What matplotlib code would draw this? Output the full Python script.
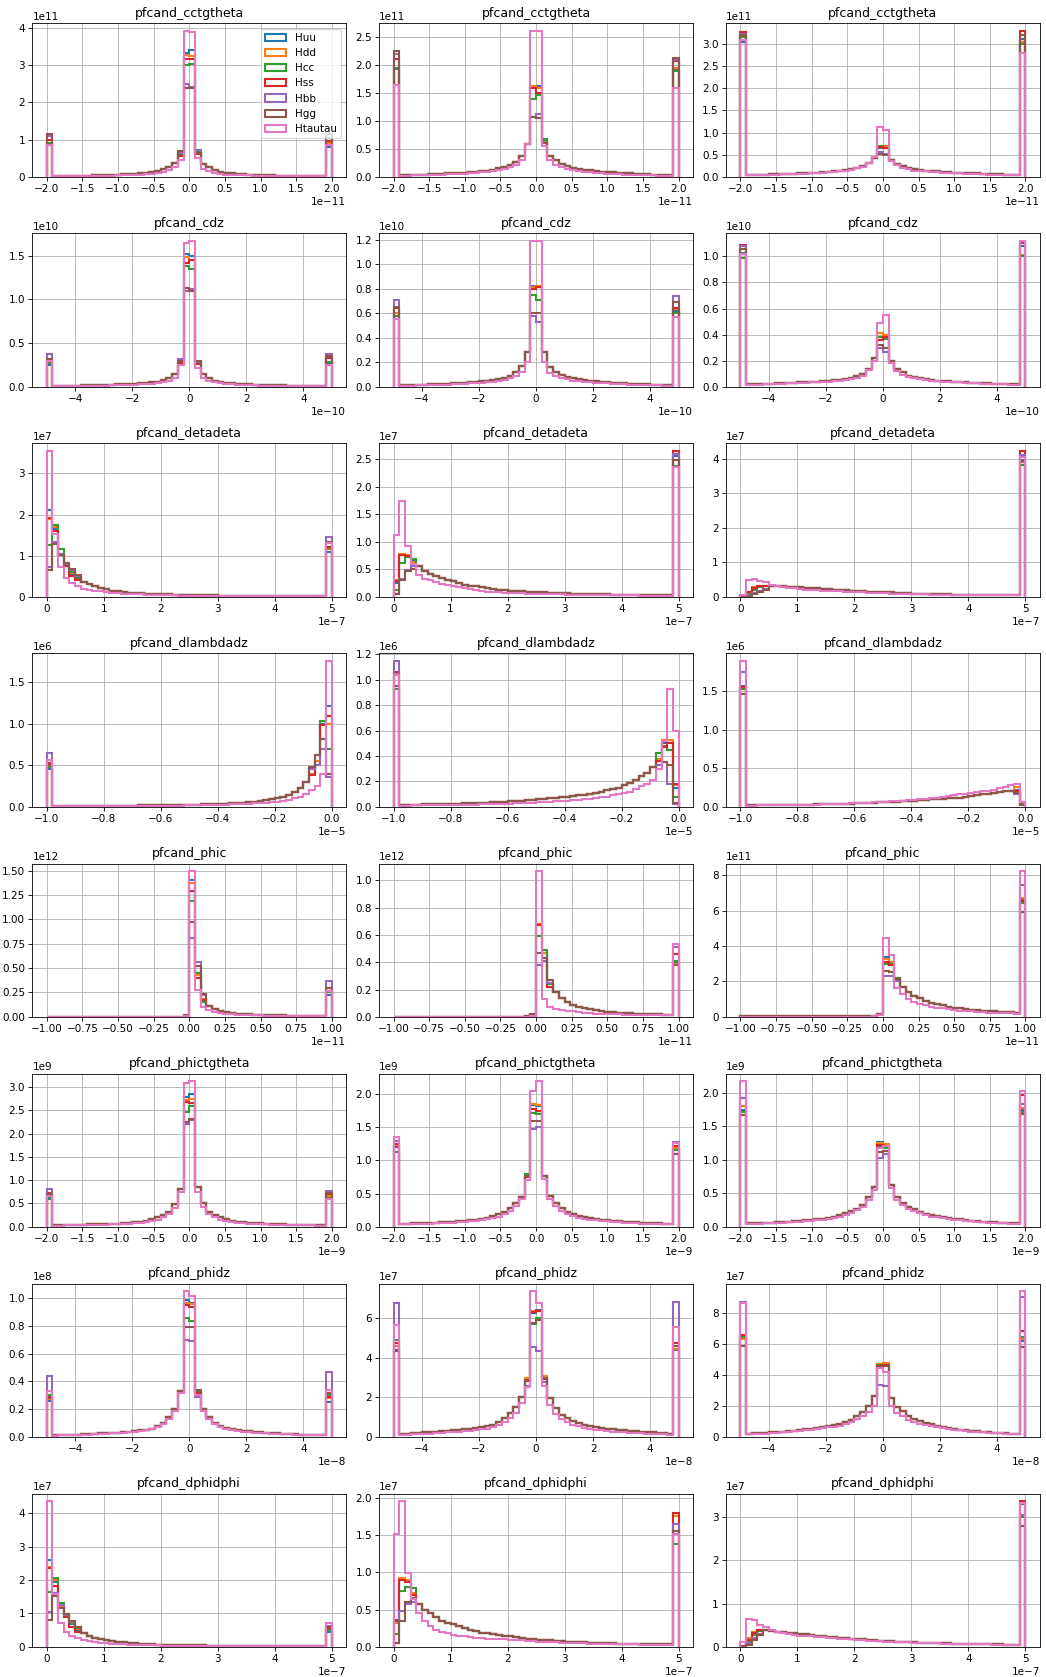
import numpy as np
import matplotlib
matplotlib.use("Agg")
import matplotlib.pyplot as plt

samples = ["Huu", "Hdd", "Hcc", "Hss", "Hbb", "Hgg", "Htautau"]
variables = ["pfcand_cctgtheta", "pfcand_cdz", "pfcand_detadeta", "pfcand_dlambdadz",
             "pfcand_phic", "pfcand_phictgtheta", "pfcand_phidz", "pfcand_dphidphi"]
x_ranges = [(-2e-11, 2e-11), (-5e-10, 5e-10), (0, 5e-7), (-1e-5, 0),
            (-1e-11, 1e-11), (-2e-9, 2e-9), (-5e-8, 5e-8), (0, 5e-7)]
# unit of the y axis for each panel (row, column)
y_units = [[1e11, 1e11, 1e11],
           [1e10, 1e10, 1e10],
           [1e7, 1e7, 1e7],
           [1e6, 1e6, 1e6],
           [1e12, 1e12, 1e11],
           [1e9, 1e9, 1e9],
           [1e8, 1e7, 1e7],
           [1e7, 1e7, 1e7]]

# 50 bins per panel: "qq" = typical quark/gluon sample, "tau" = Htautau,
# "peak" = per-sample values [Huu, Hdd, Hcc, Hss, Hbb, Hgg, Htautau] for bins that differ

# ---- pfcand_cctgtheta
cctgtheta_1_qq = [0.85, 0.02, 0.02, 0.02, 0.025, 0.025, 0.03, 0.03, 0.035, 0.04,
                  0.045, 0.05, 0.06, 0.065, 0.075, 0.085, 0.1, 0.11, 0.13, 0.15,
                  0.2, 0.27, 0.38, 0.62, 3.33, 3.4, 0.65, 0.35, 0.25, 0.18,
                  0.14, 0.11, 0.09, 0.08, 0.07, 0.06, 0.05, 0.045, 0.04, 0.035,
                  0.03, 0.03, 0.025, 0.025, 0.02, 0.02, 0.02, 0.02, 0.02, 0.8]
cctgtheta_1_tau = [0.85, 0.01, 0.01, 0.01, 0.015, 0.015, 0.02, 0.02, 0.02, 0.025,
                   0.03, 0.03, 0.035, 0.04, 0.045, 0.05, 0.06, 0.07, 0.08, 0.1,
                   0.13, 0.18, 0.26, 0.45, 3.92, 3.9, 0.5, 0.2, 0.15, 0.1,
                   0.08, 0.06, 0.05, 0.045, 0.04, 0.035, 0.03, 0.025, 0.02, 0.02,
                   0.02, 0.015, 0.015, 0.01, 0.01, 0.01, 0.01, 0.01, 0.01, 0.85]
cctgtheta_1_peak = {0: [0.85, 0.9, 0.92, 1.0, 1.1, 1.15, 0.85],
                    49: [0.8, 0.9, 0.95, 0.95, 1.05, 1.15, 0.85],
                    24: [3.33, 3.27, 3.0, 3.15, 2.5, 2.38, 3.92],
                    25: [3.4, 3.25, 3.02, 3.15, 2.4, 2.38, 3.9],
                    23: [0.62, 0.6, 0.6, 0.55, 0.65, 0.7, 0.45],
                    26: [0.65, 0.62, 0.7, 0.6, 0.72, 0.65, 0.5]}

cctgtheta_2_qq = [1.93, 0.03, 0.03, 0.035, 0.04, 0.04, 0.045, 0.05, 0.055, 0.06,
                  0.065, 0.07, 0.075, 0.08, 0.09, 0.1, 0.11, 0.12, 0.15, 0.18,
                  0.22, 0.27, 0.38, 0.58, 1.6, 1.63, 0.65, 0.38, 0.3, 0.23,
                  0.19, 0.16, 0.14, 0.13, 0.12, 0.1, 0.09, 0.085, 0.08, 0.07,
                  0.065, 0.06, 0.055, 0.05, 0.045, 0.04, 0.04, 0.035, 0.03, 1.93]
cctgtheta_2_tau = [1.65, 0.02, 0.02, 0.025, 0.03, 0.03, 0.035, 0.035, 0.04, 0.045,
                   0.05, 0.05, 0.055, 0.06, 0.07, 0.08, 0.09, 0.1, 0.12, 0.14,
                   0.17, 0.22, 0.3, 0.58, 2.62, 2.62, 0.55, 0.3, 0.22, 0.17,
                   0.14, 0.12, 0.1, 0.09, 0.08, 0.07, 0.06, 0.055, 0.05, 0.045,
                   0.04, 0.035, 0.03, 0.03, 0.025, 0.025, 0.02, 0.02, 0.02, 1.6]
cctgtheta_2_peak = {0: [1.93, 1.95, 1.95, 2.12, 2.2, 2.25, 1.65],
                    49: [1.93, 1.95, 1.9, 2.07, 2.1, 2.13, 1.6],
                    24: [1.6, 1.62, 1.4, 1.6, 1.08, 1.08, 2.62],
                    25: [1.63, 1.6, 1.47, 1.5, 1.13, 1.05, 2.62],
                    26: [0.65, 0.63, 0.68, 0.6, 0.6, 0.6, 0.55]}

cctgtheta_3_qq = [3.05, 0.05, 0.05, 0.05, 0.05, 0.055, 0.06, 0.06, 0.065, 0.07,
                  0.075, 0.08, 0.085, 0.09, 0.1, 0.11, 0.12, 0.13, 0.15, 0.17,
                  0.2, 0.24, 0.3, 0.42, 0.65, 0.68, 0.38, 0.29, 0.24, 0.2,
                  0.17, 0.15, 0.14, 0.13, 0.12, 0.11, 0.1, 0.095, 0.09, 0.085,
                  0.08, 0.075, 0.07, 0.065, 0.06, 0.055, 0.05, 0.05, 0.05, 3.12]
cctgtheta_3_tau = [3.1, 0.04, 0.04, 0.045, 0.045, 0.05, 0.05, 0.055, 0.06, 0.065,
                   0.07, 0.07, 0.075, 0.08, 0.09, 0.1, 0.11, 0.12, 0.14, 0.16,
                   0.19, 0.22, 0.3, 0.45, 1.13, 1.05, 0.35, 0.27, 0.2, 0.17,
                   0.14, 0.13, 0.12, 0.11, 0.1, 0.09, 0.085, 0.08, 0.075, 0.07,
                   0.065, 0.06, 0.055, 0.05, 0.05, 0.045, 0.045, 0.04, 0.04, 2.8]
cctgtheta_3_peak = {0: [3.05, 3.1, 3.15, 3.27, 3.22, 3.2, 3.1],
                    49: [3.12, 3.05, 3.0, 3.3, 3.2, 3.2, 2.8],
                    24: [0.65, 0.68, 0.7, 0.68, 0.55, 0.52, 1.13],
                    25: [0.68, 0.7, 0.66, 0.65, 0.52, 0.5, 1.05]}

# ---- pfcand_cdz
cdz_1_qq = [0.25, 0.01, 0.01, 0.01, 0.012, 0.013, 0.015, 0.016, 0.018, 0.02,
            0.022, 0.025, 0.028, 0.03, 0.033, 0.036, 0.04, 0.045, 0.05, 0.06,
            0.075, 0.1, 0.15, 0.28, 1.52, 1.5, 0.27, 0.15, 0.1, 0.07,
            0.055, 0.045, 0.04, 0.035, 0.03, 0.028, 0.025, 0.022, 0.02, 0.018,
            0.016, 0.015, 0.013, 0.012, 0.011, 0.01, 0.01, 0.01, 0.01, 0.27]
cdz_1_tau = [0.3, 0.005, 0.005, 0.006, 0.007, 0.008, 0.009, 0.01, 0.011, 0.012,
             0.014, 0.016, 0.018, 0.02, 0.022, 0.025, 0.028, 0.032, 0.036, 0.042,
             0.05, 0.07, 0.1, 0.25, 1.65, 1.67, 0.22, 0.1, 0.07, 0.05,
             0.04, 0.032, 0.028, 0.024, 0.02, 0.018, 0.016, 0.014, 0.012, 0.011,
             0.01, 0.009, 0.008, 0.007, 0.006, 0.006, 0.005, 0.005, 0.005, 0.25]
cdz_1_peak = {0: [0.25, 0.27, 0.27, 0.3, 0.38, 0.32, 0.3],
              49: [0.27, 0.28, 0.28, 0.33, 0.37, 0.35, 0.25],
              24: [1.52, 1.48, 1.38, 1.42, 1.1, 1.13, 1.65],
              25: [1.5, 1.45, 1.35, 1.45, 1.12, 1.1, 1.67],
              23: [0.28, 0.27, 0.27, 0.27, 0.32, 0.3, 0.25],
              26: [0.27, 0.26, 0.27, 0.26, 0.28, 0.3, 0.22]}

cdz_2_qq = [0.6, 0.012, 0.013, 0.014, 0.015, 0.017, 0.019, 0.021, 0.023, 0.025,
            0.028, 0.03, 0.033, 0.036, 0.04, 0.043, 0.048, 0.055, 0.062, 0.075,
            0.09, 0.12, 0.17, 0.28, 0.82, 0.82, 0.28, 0.16, 0.12, 0.1,
            0.08, 0.07, 0.062, 0.055, 0.048, 0.043, 0.04, 0.036, 0.033, 0.03,
            0.028, 0.025, 0.023, 0.021, 0.019, 0.017, 0.015, 0.014, 0.013, 0.62]
cdz_2_tau = [0.55, 0.008, 0.009, 0.01, 0.011, 0.012, 0.013, 0.014, 0.016, 0.018,
             0.02, 0.022, 0.024, 0.027, 0.03, 0.033, 0.036, 0.04, 0.046, 0.055,
             0.07, 0.09, 0.12, 0.2, 1.19, 1.19, 0.2, 0.11, 0.085, 0.07,
             0.06, 0.05, 0.045, 0.04, 0.035, 0.032, 0.03, 0.027, 0.024, 0.022,
             0.02, 0.018, 0.016, 0.014, 0.013, 0.012, 0.011, 0.01, 0.009, 0.57]
cdz_2_peak = {0: [0.6, 0.6, 0.58, 0.64, 0.71, 0.65, 0.55],
              49: [0.62, 0.63, 0.6, 0.64, 0.74, 0.69, 0.57],
              24: [0.82, 0.81, 0.75, 0.8, 0.58, 0.6, 1.19],
              25: [0.82, 0.82, 0.71, 0.81, 0.53, 0.6, 1.19]}

cdz_3_qq = [1.03, 0.018, 0.02, 0.02, 0.022, 0.024, 0.026, 0.028, 0.03, 0.032,
            0.034, 0.036, 0.038, 0.04, 0.043, 0.046, 0.05, 0.055, 0.06, 0.068,
            0.08, 0.1, 0.14, 0.22, 0.41, 0.4, 0.2, 0.14, 0.11, 0.085,
            0.072, 0.065, 0.058, 0.052, 0.048, 0.045, 0.042, 0.04, 0.037, 0.034,
            0.032, 0.03, 0.028, 0.026, 0.024, 0.022, 0.02, 0.02, 0.018, 1.08]
cdz_3_tau = [1.02, 0.015, 0.016, 0.017, 0.018, 0.02, 0.022, 0.024, 0.026, 0.028,
             0.03, 0.032, 0.034, 0.036, 0.038, 0.04, 0.044, 0.048, 0.052, 0.06,
             0.07, 0.085, 0.13, 0.2, 0.49, 0.55, 0.18, 0.12, 0.09, 0.075,
             0.065, 0.058, 0.052, 0.047, 0.043, 0.04, 0.038, 0.035, 0.033, 0.03,
             0.028, 0.026, 0.024, 0.022, 0.02, 0.019, 0.018, 0.017, 0.016, 1.12]
cdz_3_peak = {0: [1.03, 1.02, 0.99, 1.09, 1.08, 1.06, 1.02],
              49: [1.08, 1.01, 1.0, 1.1, 1.11, 1.1, 1.12],
              24: [0.41, 0.41, 0.38, 0.36, 0.3, 0.32, 0.49],
              25: [0.4, 0.4, 0.37, 0.38, 0.27, 0.3, 0.55]}

# ---- pfcand_detadeta
detadeta_1_qq = [2.1, 1.65, 1.05, 0.78, 0.58, 0.42, 0.35, 0.3, 0.26, 0.21,
                 0.18, 0.15, 0.13, 0.11, 0.1, 0.09, 0.085, 0.078, 0.07, 0.065,
                 0.06, 0.056, 0.052, 0.048, 0.045, 0.042, 0.04, 0.037, 0.035, 0.033,
                 0.031, 0.03, 0.028, 0.027, 0.026, 0.025, 0.024, 0.023, 0.022, 0.021,
                 0.02, 0.02, 0.02, 0.019, 0.019, 0.018, 0.018, 0.018, 0.018, 1.1]
detadeta_1_tau = [3.55, 1.52, 0.72, 0.45, 0.33, 0.25, 0.2, 0.17, 0.15, 0.13,
                  0.11, 0.095, 0.085, 0.075, 0.068, 0.062, 0.056, 0.05, 0.046, 0.042,
                  0.038, 0.035, 0.032, 0.03, 0.028, 0.026, 0.024, 0.023, 0.022, 0.021,
                  0.02, 0.019, 0.018, 0.017, 0.016, 0.016, 0.015, 0.015, 0.014, 0.014,
                  0.013, 0.013, 0.013, 0.012, 0.012, 0.012, 0.012, 0.012, 0.012, 1.3]
detadeta_1_peak = {0: [2.1, 1.9, 1.25, 1.92, 0.72, 0.65, 3.55],
                   1: [1.65, 1.7, 1.75, 1.6, 1.33, 1.28, 1.52],
                   2: [1.05, 1.05, 1.15, 1.02, 1.05, 1.02, 0.72],
                   3: [0.75, 0.77, 0.8, 0.75, 0.8, 0.83, 0.45],
                   4: [0.55, 0.58, 0.6, 0.5, 0.65, 0.68, 0.33],
                   5: [0.42, 0.43, 0.45, 0.4, 0.5, 0.52, 0.25],
                   49: [1.1, 1.15, 1.18, 1.2, 1.45, 1.33, 1.3]}

detadeta_2_qq = [0.25, 0.75, 0.75, 0.65, 0.55, 0.47, 0.42, 0.38, 0.34, 0.31,
                 0.28, 0.25, 0.22, 0.2, 0.19, 0.17, 0.16, 0.15, 0.13, 0.12,
                 0.11, 0.105, 0.1, 0.095, 0.09, 0.085, 0.08, 0.075, 0.07, 0.066,
                 0.062, 0.058, 0.055, 0.052, 0.05, 0.047, 0.045, 0.043, 0.041, 0.039,
                 0.037, 0.035, 0.034, 0.033, 0.032, 0.031, 0.03, 0.03, 0.03, 2.55]
detadeta_2_tau = [1.12, 1.73, 0.92, 0.6, 0.4, 0.33, 0.3, 0.27, 0.24, 0.21,
                  0.2, 0.18, 0.16, 0.14, 0.12, 0.1, 0.09, 0.085, 0.08, 0.072,
                  0.068, 0.064, 0.06, 0.056, 0.052, 0.05, 0.048, 0.046, 0.044, 0.042,
                  0.04, 0.038, 0.036, 0.034, 0.032, 0.03, 0.029, 0.028, 0.027, 0.026,
                  0.025, 0.024, 0.024, 0.023, 0.023, 0.022, 0.022, 0.022, 0.022, 2.35]
detadeta_2_peak = {0: [0.25, 0.3, 0.12, 0.28, 0.05, 0.05, 1.12],
                   1: [0.75, 0.78, 0.62, 0.75, 0.33, 0.3, 1.73],
                   2: [0.75, 0.76, 0.72, 0.74, 0.48, 0.46, 0.92],
                   3: [0.65, 0.64, 0.68, 0.6, 0.55, 0.5, 0.6],
                   49: [2.55, 2.6, 2.38, 2.65, 2.6, 2.48, 2.35]}

detadeta_3_qq = [0.02, 0.15, 0.27, 0.3, 0.31, 0.32, 0.31, 0.3, 0.29, 0.28,
                 0.27, 0.26, 0.25, 0.24, 0.23, 0.22, 0.21, 0.2, 0.19, 0.18,
                 0.17, 0.16, 0.15, 0.145, 0.14, 0.13, 0.125, 0.12, 0.11, 0.1,
                 0.095, 0.09, 0.085, 0.08, 0.075, 0.07, 0.067, 0.064, 0.061, 0.058,
                 0.055, 0.053, 0.051, 0.05, 0.048, 0.046, 0.045, 0.044, 0.043, 3.95]
detadeta_3_tau = [0.05, 0.5, 0.52, 0.45, 0.42, 0.35, 0.3, 0.28, 0.26, 0.24,
                  0.22, 0.21, 0.2, 0.19, 0.18, 0.17, 0.16, 0.155, 0.15, 0.14,
                  0.13, 0.125, 0.12, 0.11, 0.105, 0.1, 0.095, 0.09, 0.085, 0.08,
                  0.075, 0.07, 0.068, 0.065, 0.062, 0.06, 0.058, 0.056, 0.054, 0.052,
                  0.05, 0.049, 0.048, 0.047, 0.046, 0.045, 0.044, 0.043, 0.042, 4.05]
detadeta_3_peak = {1: [0.15, 0.15, 0.08, 0.15, 0.04, 0.03, 0.5],
                   2: [0.25, 0.28, 0.2, 0.25, 0.1, 0.08, 0.52],
                   3: [0.3, 0.3, 0.27, 0.3, 0.18, 0.15, 0.45],
                   4: [0.31, 0.31, 0.3, 0.3, 0.22, 0.2, 0.42],
                   49: [3.95, 3.9, 3.82, 4.23, 4.12, 3.92, 4.05]}

# ---- pfcand_dlambdadz
dlambdadz_1_qq = [0.48, 0.008, 0.008, 0.009, 0.009, 0.01, 0.01, 0.011, 0.011, 0.012,
                  0.012, 0.013, 0.013, 0.014, 0.014, 0.015, 0.016, 0.017, 0.018, 0.019,
                  0.02, 0.021, 0.022, 0.023, 0.024, 0.025, 0.027, 0.029, 0.031, 0.033,
                  0.035, 0.038, 0.041, 0.045, 0.05, 0.055, 0.062, 0.07, 0.08, 0.09,
                  0.1, 0.12, 0.14, 0.18, 0.23, 0.3, 0.4, 0.55, 1.0, 1.22]
dlambdadz_1_tau = [0.56, 0.005, 0.005, 0.005, 0.006, 0.006, 0.006, 0.007, 0.007, 0.007,
                   0.008, 0.008, 0.008, 0.009, 0.009, 0.01, 0.01, 0.011, 0.011, 0.012,
                   0.012, 0.013, 0.014, 0.015, 0.016, 0.017, 0.018, 0.019, 0.02, 0.022,
                   0.024, 0.026, 0.028, 0.03, 0.033, 0.036, 0.04, 0.045, 0.05, 0.055,
                   0.06, 0.07, 0.08, 0.1, 0.12, 0.15, 0.2, 0.25, 0.4, 1.76]
dlambdadz_1_peak = {0: [0.45, 0.5, 0.48, 0.53, 0.65, 0.5, 0.56],
                    46: [0.4, 0.4, 0.45, 0.38, 0.45, 0.48, 0.2],
                    47: [0.55, 0.55, 0.62, 0.5, 0.5, 0.63, 0.25],
                    48: [1.0, 0.98, 1.03, 0.98, 0.7, 0.82, 0.4],
                    49: [1.22, 1.0, 0.7, 1.1, 0.36, 0.4, 1.76]}

dlambdadz_2_qq = [1.05, 0.015, 0.016, 0.017, 0.018, 0.019, 0.02, 0.021, 0.022, 0.023,
                  0.024, 0.025, 0.027, 0.028, 0.03, 0.031, 0.033, 0.035, 0.037, 0.04,
                  0.042, 0.045, 0.048, 0.051, 0.055, 0.058, 0.062, 0.066, 0.07, 0.075,
                  0.08, 0.085, 0.09, 0.096, 0.1, 0.11, 0.12, 0.13, 0.14, 0.15,
                  0.17, 0.19, 0.21, 0.24, 0.27, 0.31, 0.38, 0.5, 0.5, 0.15]
dlambdadz_2_tau = [1.04, 0.01, 0.01, 0.011, 0.011, 0.012, 0.012, 0.013, 0.013, 0.014,
                   0.015, 0.015, 0.016, 0.017, 0.018, 0.019, 0.02, 0.021, 0.022, 0.023,
                   0.025, 0.026, 0.028, 0.03, 0.032, 0.034, 0.036, 0.039, 0.042, 0.045,
                   0.048, 0.052, 0.056, 0.06, 0.065, 0.07, 0.075, 0.08, 0.09, 0.1,
                   0.11, 0.12, 0.14, 0.16, 0.18, 0.21, 0.3, 0.52, 0.93, 0.6]
dlambdadz_2_peak = {0: [1.05, 1.05, 0.93, 1.06, 1.15, 0.95, 1.04],
                    46: [0.38, 0.38, 0.42, 0.36, 0.33, 0.3, 0.3],
                    47: [0.5, 0.53, 0.48, 0.47, 0.35, 0.35, 0.52],
                    48: [0.5, 0.53, 0.45, 0.5, 0.18, 0.33, 0.93],
                    49: [0.15, 0.17, 0.08, 0.18, 0.02, 0.03, 0.6]}

dlambdadz_3_qq = [1.57, 0.018, 0.019, 0.02, 0.02, 0.021, 0.022, 0.023, 0.024, 0.025,
                  0.026, 0.027, 0.028, 0.03, 0.031, 0.033, 0.035, 0.037, 0.039, 0.041,
                  0.044, 0.047, 0.05, 0.053, 0.056, 0.06, 0.064, 0.068, 0.072, 0.076,
                  0.08, 0.085, 0.09, 0.095, 0.1, 0.105, 0.11, 0.115, 0.12, 0.13,
                  0.14, 0.15, 0.16, 0.17, 0.18, 0.19, 0.2, 0.21, 0.22, 0.05]
dlambdadz_3_tau = [1.89, 0.015, 0.016, 0.017, 0.018, 0.019, 0.02, 0.021, 0.022, 0.023,
                   0.024, 0.025, 0.027, 0.029, 0.031, 0.033, 0.035, 0.037, 0.04, 0.043,
                   0.046, 0.05, 0.053, 0.057, 0.061, 0.065, 0.07, 0.075, 0.08, 0.085,
                   0.09, 0.095, 0.1, 0.11, 0.12, 0.13, 0.14, 0.15, 0.16, 0.17,
                   0.18, 0.19, 0.2, 0.21, 0.22, 0.24, 0.26, 0.28, 0.3, 0.06]
dlambdadz_3_peak = {0: [1.57, 1.55, 1.53, 1.55, 1.74, 1.46, 1.89],
                    48: [0.22, 0.25, 0.2, 0.2, 0.16, 0.18, 0.3],
                    49: [0.05, 0.06, 0.04, 0.06, 0.02, 0.02, 0.06]}

# ---- pfcand_phic
phic_1_qq = [0.002, 0.002, 0.002, 0.002, 0.002, 0.002, 0.002, 0.002, 0.002, 0.002,
             0.002, 0.002, 0.002, 0.002, 0.002, 0.002, 0.002, 0.002, 0.002, 0.002,
             0.002, 0.002, 0.002, 0.003, 0.008, 1.41, 0.45, 0.18, 0.11, 0.08,
             0.06, 0.045, 0.037, 0.032, 0.028, 0.024, 0.021, 0.019, 0.017, 0.016,
             0.015, 0.014, 0.013, 0.012, 0.012, 0.011, 0.011, 0.01, 0.01, 0.22]
phic_1_tau = [0.001, 0.001, 0.001, 0.001, 0.001, 0.001, 0.001, 0.001, 0.001, 0.001,
              0.001, 0.001, 0.001, 0.001, 0.001, 0.001, 0.001, 0.001, 0.001, 0.001,
              0.001, 0.001, 0.001, 0.002, 0.004, 1.5, 0.28, 0.1, 0.07, 0.05,
              0.04, 0.032, 0.027, 0.023, 0.02, 0.018, 0.016, 0.014, 0.013, 0.012,
              0.011, 0.01, 0.01, 0.009, 0.009, 0.008, 0.008, 0.008, 0.008, 0.27]
phic_1_peak = {24: [0.008, 0.008, 0.01, 0.008, 0.015, 0.02, 0.004],
               25: [1.41, 1.37, 1.19, 1.29, 0.81, 0.97, 1.5],
               26: [0.45, 0.43, 0.45, 0.4, 0.56, 0.52, 0.28],
               27: [0.18, 0.18, 0.15, 0.17, 0.22, 0.23, 0.1],
               49: [0.22, 0.25, 0.25, 0.27, 0.37, 0.3, 0.27]}

phic_2_qq = [0.002, 0.002, 0.002, 0.002, 0.002, 0.002, 0.002, 0.002, 0.002, 0.002,
             0.002, 0.002, 0.002, 0.002, 0.002, 0.002, 0.002, 0.002, 0.002, 0.002,
             0.002, 0.002, 0.002, 0.003, 0.01, 0.67, 0.47, 0.25, 0.18, 0.14,
             0.11, 0.09, 0.075, 0.065, 0.055, 0.048, 0.042, 0.037, 0.033, 0.03,
             0.027, 0.025, 0.023, 0.021, 0.02, 0.018, 0.017, 0.016, 0.015, 0.4]
phic_2_tau = [0.001, 0.001, 0.001, 0.001, 0.001, 0.001, 0.001, 0.001, 0.001, 0.001,
              0.001, 0.001, 0.001, 0.001, 0.001, 0.001, 0.001, 0.001, 0.001, 0.001,
              0.001, 0.001, 0.001, 0.002, 0.005, 1.07, 0.13, 0.07, 0.06, 0.05,
              0.045, 0.04, 0.035, 0.03, 0.027, 0.024, 0.022, 0.02, 0.018, 0.017,
              0.016, 0.015, 0.014, 0.013, 0.013, 0.012, 0.012, 0.012, 0.012, 0.53]
phic_2_peak = {24: [0.01, 0.01, 0.012, 0.01, 0.02, 0.022, 0.005],
               25: [0.67, 0.68, 0.59, 0.67, 0.38, 0.47, 1.07],
               26: [0.47, 0.47, 0.49, 0.43, 0.41, 0.43, 0.13],
               27: [0.25, 0.25, 0.24, 0.22, 0.25, 0.27, 0.07],
               49: [0.4, 0.39, 0.41, 0.46, 0.51, 0.38, 0.53]}

phic_3_qq = [0.02, 0.02, 0.02, 0.02, 0.02, 0.02, 0.02, 0.02, 0.02, 0.02,
             0.02, 0.02, 0.02, 0.02, 0.02, 0.02, 0.02, 0.02, 0.02, 0.02,
             0.02, 0.02, 0.02, 0.03, 0.15, 3.4, 3.1, 2.2, 1.7, 1.4,
             1.2, 1.05, 0.9, 0.8, 0.72, 0.65, 0.58, 0.52, 0.47, 0.43,
             0.4, 0.37, 0.34, 0.32, 0.3, 0.28, 0.26, 0.25, 0.23, 6.6]
phic_3_tau = [0.01, 0.01, 0.01, 0.01, 0.01, 0.01, 0.01, 0.01, 0.01, 0.01,
              0.01, 0.01, 0.01, 0.01, 0.01, 0.01, 0.01, 0.01, 0.01, 0.01,
              0.01, 0.01, 0.01, 0.02, 0.1, 4.45, 3.5, 1.6, 1.3, 1.0,
              0.85, 0.75, 0.65, 0.58, 0.52, 0.47, 0.42, 0.38, 0.35, 0.32,
              0.3, 0.28, 0.26, 0.24, 0.22, 0.21, 0.2, 0.19, 0.18, 8.25]
phic_3_peak = {25: [3.4, 3.25, 3.0, 3.1, 2.3, 2.6, 4.45],
               26: [3.1, 3.1, 3.0, 2.95, 2.3, 2.55, 3.5],
               27: [2.2, 2.2, 2.2, 2.0, 2.0, 2.15, 1.6],
               49: [6.6, 6.7, 6.45, 6.55, 7.45, 5.95, 8.25]}

# ---- pfcand_phictgtheta
phictgtheta_1_qq = [0.6, 0.035, 0.038, 0.04, 0.042, 0.045, 0.048, 0.05, 0.053, 0.056,
                    0.06, 0.065, 0.07, 0.075, 0.085, 0.095, 0.105, 0.13, 0.16, 0.2,
                    0.25, 0.32, 0.48, 0.82, 2.78, 2.85, 0.85, 0.5, 0.32, 0.25,
                    0.2, 0.16, 0.13, 0.11, 0.1, 0.09, 0.08, 0.072, 0.065, 0.06,
                    0.056, 0.052, 0.048, 0.045, 0.042, 0.04, 0.038, 0.036, 0.035, 0.6]
phictgtheta_1_tau = [0.65, 0.025, 0.027, 0.03, 0.032, 0.034, 0.036, 0.038, 0.04, 0.043,
                     0.046, 0.05, 0.054, 0.058, 0.065, 0.072, 0.08, 0.1, 0.12, 0.15,
                     0.2, 0.27, 0.4, 0.75, 3.08, 3.13, 0.75, 0.42, 0.27, 0.2,
                     0.15, 0.12, 0.1, 0.085, 0.075, 0.068, 0.06, 0.055, 0.05, 0.046,
                     0.042, 0.039, 0.036, 0.034, 0.032, 0.03, 0.028, 0.027, 0.026, 0.6]
phictgtheta_1_peak = {0: [0.6, 0.65, 0.62, 0.72, 0.82, 0.7, 0.65],
                      49: [0.6, 0.65, 0.62, 0.7, 0.77, 0.72, 0.6],
                      24: [2.78, 2.72, 2.47, 2.68, 2.2, 2.25, 3.08],
                      25: [2.85, 2.75, 2.6, 2.65, 2.3, 2.32, 3.13]}

phictgtheta_2_qq = [1.2, 0.045, 0.048, 0.05, 0.053, 0.056, 0.06, 0.064, 0.068, 0.072,
                    0.078, 0.085, 0.092, 0.1, 0.11, 0.125, 0.14, 0.16, 0.19, 0.23,
                    0.28, 0.36, 0.45, 0.78, 1.83, 1.82, 0.76, 0.46, 0.36, 0.28,
                    0.23, 0.2, 0.17, 0.15, 0.135, 0.12, 0.11, 0.1, 0.092, 0.085,
                    0.078, 0.072, 0.066, 0.06, 0.056, 0.053, 0.05, 0.048, 0.045, 1.17]
phictgtheta_2_tau = [1.35, 0.035, 0.037, 0.04, 0.042, 0.045, 0.048, 0.05, 0.054, 0.058,
                     0.062, 0.068, 0.074, 0.08, 0.09, 0.1, 0.115, 0.13, 0.155, 0.19,
                     0.24, 0.31, 0.42, 0.7, 2.05, 2.2, 0.72, 0.42, 0.31, 0.24,
                     0.19, 0.16, 0.14, 0.12, 0.11, 0.1, 0.09, 0.082, 0.075, 0.068,
                     0.062, 0.057, 0.052, 0.048, 0.045, 0.042, 0.04, 0.038, 0.036, 1.27]
phictgtheta_2_peak = {0: [1.2, 1.22, 1.13, 1.25, 1.3, 1.2, 1.35],
                      49: [1.17, 1.18, 1.15, 1.22, 1.28, 1.1, 1.27],
                      24: [1.83, 1.85, 1.72, 1.78, 1.48, 1.6, 2.05],
                      25: [1.82, 1.83, 1.7, 1.75, 1.5, 1.59, 2.2],
                      23: [0.78, 0.77, 0.8, 0.75, 0.7, 0.76, 0.7]}

phictgtheta_3_qq = [1.74, 0.05, 0.053, 0.056, 0.06, 0.064, 0.068, 0.072, 0.077, 0.082,
                    0.088, 0.095, 0.1, 0.11, 0.12, 0.135, 0.15, 0.17, 0.2, 0.23,
                    0.27, 0.33, 0.45, 0.6, 1.26, 1.23, 0.62, 0.45, 0.36, 0.3,
                    0.26, 0.22, 0.19, 0.17, 0.155, 0.14, 0.13, 0.12, 0.11, 0.1,
                    0.092, 0.085, 0.078, 0.072, 0.066, 0.06, 0.056, 0.053, 0.05, 1.75]
phictgtheta_3_tau = [2.18, 0.04, 0.043, 0.046, 0.05, 0.054, 0.058, 0.062, 0.066, 0.07,
                     0.075, 0.08, 0.087, 0.095, 0.105, 0.12, 0.13, 0.15, 0.18, 0.21,
                     0.25, 0.3, 0.4, 0.55, 1.18, 1.2, 0.58, 0.4, 0.32, 0.27,
                     0.23, 0.2, 0.17, 0.15, 0.14, 0.125, 0.115, 0.105, 0.095, 0.088,
                     0.08, 0.074, 0.068, 0.062, 0.058, 0.054, 0.05, 0.047, 0.044, 2.03]
phictgtheta_3_peak = {0: [1.74, 1.8, 1.72, 1.92, 1.93, 1.67, 2.18],
                      49: [1.75, 1.77, 1.72, 1.97, 1.83, 1.68, 2.03],
                      24: [1.26, 1.25, 1.2, 1.22, 1.03, 1.12, 1.18],
                      25: [1.23, 1.24, 1.18, 1.2, 1.08, 1.13, 1.2]}

# ---- pfcand_phidz
phidz_1_qq = [0.26, 0.012, 0.013, 0.014, 0.015, 0.016, 0.018, 0.02, 0.022, 0.024,
              0.026, 0.028, 0.031, 0.034, 0.037, 0.041, 0.046, 0.052, 0.06, 0.075,
              0.1, 0.14, 0.2, 0.33, 0.99, 0.97, 0.33, 0.2, 0.14, 0.1,
              0.08, 0.065, 0.055, 0.048, 0.043, 0.039, 0.035, 0.032, 0.029, 0.026,
              0.024, 0.022, 0.02, 0.018, 0.016, 0.015, 0.014, 0.013, 0.012, 0.25]
phidz_1_tau = [0.33, 0.009, 0.01, 0.011, 0.012, 0.013, 0.014, 0.016, 0.018, 0.02,
               0.022, 0.024, 0.026, 0.029, 0.032, 0.036, 0.04, 0.046, 0.054, 0.068,
               0.09, 0.13, 0.19, 0.32, 1.055, 1.02, 0.3, 0.19, 0.13, 0.09,
               0.07, 0.058, 0.05, 0.043, 0.038, 0.034, 0.031, 0.028, 0.025, 0.023,
               0.021, 0.019, 0.017, 0.016, 0.014, 0.013, 0.012, 0.011, 0.01, 0.34]
phidz_1_peak = {0: [0.26, 0.27, 0.3, 0.29, 0.44, 0.28, 0.33],
                49: [0.25, 0.28, 0.3, 0.29, 0.47, 0.32, 0.34],
                24: [0.99, 0.97, 0.86, 0.95, 0.7, 0.79, 1.055],
                25: [0.97, 0.96, 0.84, 0.94, 0.69, 0.79, 1.02],
                26: [0.33, 0.33, 0.33, 0.32, 0.29, 0.34, 0.3]}

phidz_2_qq = [4.35, 0.15, 0.16, 0.18, 0.2, 0.22, 0.24, 0.26, 0.28, 0.3,
              0.33, 0.35, 0.38, 0.41, 0.45, 0.5, 0.55, 0.62, 0.75, 0.95,
              1.2, 1.5, 2.0, 2.9, 6.3, 6.45, 3.0, 1.95, 1.45, 1.1,
              0.95, 0.8, 0.7, 0.62, 0.55, 0.5, 0.46, 0.42, 0.39, 0.36,
              0.33, 0.3, 0.28, 0.26, 0.24, 0.22, 0.2, 0.18, 0.16, 4.4]
phidz_2_tau = [5.65, 0.1, 0.11, 0.12, 0.13, 0.15, 0.16, 0.18, 0.2, 0.22,
               0.24, 0.26, 0.28, 0.31, 0.34, 0.38, 0.42, 0.48, 0.58, 0.75,
               0.95, 1.2, 1.7, 2.5, 7.4, 6.8, 2.6, 1.6, 1.15, 0.9,
               0.75, 0.62, 0.53, 0.46, 0.4, 0.36, 0.32, 0.29, 0.26, 0.24,
               0.22, 0.2, 0.18, 0.17, 0.16, 0.14, 0.13, 0.12, 0.11, 5.55]
phidz_2_peak = {0: [4.35, 4.6, 4.9, 4.75, 6.8, 4.4, 5.65],
                49: [4.4, 4.45, 4.6, 4.75, 6.85, 4.6, 5.55],
                24: [6.3, 6.4, 5.7, 6.35, 4.55, 5.75, 7.4],
                25: [6.45, 6.4, 6.0, 6.4, 4.35, 5.9, 6.8],
                23: [2.9, 3.0, 2.9, 2.85, 2.55, 2.9, 2.5],
                26: [3.0, 3.1, 3.0, 2.95, 2.8, 3.0, 2.6]}

phidz_3_qq = [6.35, 0.2, 0.22, 0.24, 0.26, 0.28, 0.3, 0.33, 0.36, 0.4,
              0.44, 0.48, 0.52, 0.57, 0.62, 0.68, 0.75, 0.82, 0.95, 1.1,
              1.35, 1.6, 2.0, 2.6, 4.65, 4.75, 2.5, 1.9, 1.65, 1.35,
              1.15, 1.0, 0.9, 0.8, 0.72, 0.65, 0.58, 0.52, 0.47, 0.43,
              0.39, 0.35, 0.32, 0.29, 0.27, 0.25, 0.23, 0.21, 0.2, 6.15]
phidz_3_tau = [8.6, 0.15, 0.17, 0.19, 0.21, 0.23, 0.25, 0.28, 0.31, 0.35,
               0.38, 0.42, 0.46, 0.5, 0.55, 0.6, 0.66, 0.72, 0.82, 0.95,
               1.15, 1.35, 1.6, 2.0, 4.4, 4.2, 2.0, 1.55, 1.35, 1.1,
               0.95, 0.85, 0.75, 0.68, 0.61, 0.55, 0.5, 0.45, 0.41, 0.37,
               0.34, 0.31, 0.28, 0.26, 0.24, 0.22, 0.2, 0.18, 0.17, 9.4]
phidz_3_peak = {0: [6.35, 6.3, 6.4, 6.55, 8.65, 5.85, 8.6],
                49: [6.15, 6.3, 6.45, 6.8, 9.0, 5.8, 9.4],
                24: [4.65, 4.7, 4.6, 4.55, 3.35, 4.5, 4.4],
                25: [4.75, 4.75, 4.65, 4.6, 3.3, 4.55, 4.2]}

# ---- pfcand_dphidphi
dphidphi_1_qq = [2.6, 1.95, 1.2, 0.95, 0.7, 0.52, 0.4, 0.33, 0.27, 0.22,
                 0.19, 0.17, 0.15, 0.13, 0.115, 0.1, 0.09, 0.082, 0.075, 0.068,
                 0.062, 0.057, 0.053, 0.05, 0.047, 0.045, 0.042, 0.04, 0.038, 0.036,
                 0.035, 0.033, 0.032, 0.03, 0.029, 0.028, 0.027, 0.026, 0.026, 0.025,
                 0.025, 0.024, 0.023, 0.023, 0.022, 0.022, 0.021, 0.021, 0.02, 0.45]
dphidphi_1_tau = [4.38, 1.58, 0.7, 0.45, 0.32, 0.25, 0.2, 0.17, 0.14, 0.12,
                  0.1, 0.09, 0.08, 0.07, 0.063, 0.057, 0.052, 0.048, 0.044, 0.04,
                  0.037, 0.034, 0.032, 0.03, 0.028, 0.027, 0.026, 0.025, 0.024, 0.023,
                  0.022, 0.021, 0.02, 0.02, 0.019, 0.018, 0.018, 0.017, 0.017, 0.016,
                  0.016, 0.016, 0.015, 0.015, 0.015, 0.014, 0.014, 0.014, 0.014, 0.7]
dphidphi_1_peak = {0: [2.6, 2.4, 1.65, 2.35, 1.05, 0.8, 4.38],
                   1: [1.95, 2.0, 2.05, 1.83, 1.6, 1.52, 1.58],
                   2: [1.2, 1.2, 1.32, 1.15, 1.25, 1.15, 0.7],
                   3: [0.92, 0.93, 0.98, 0.88, 0.95, 0.98, 0.45],
                   4: [0.68, 0.7, 0.72, 0.58, 0.75, 0.78, 0.32],
                   5: [0.5, 0.52, 0.55, 0.45, 0.58, 0.6, 0.25],
                   49: [0.45, 0.5, 0.5, 0.55, 0.62, 0.6, 0.7]}

dphidphi_2_qq = [0.33, 0.92, 0.88, 0.72, 0.58, 0.5, 0.45, 0.4, 0.35, 0.32,
                 0.3, 0.28, 0.25, 0.23, 0.21, 0.19, 0.18, 0.17, 0.16, 0.15,
                 0.14, 0.13, 0.12, 0.11, 0.1, 0.095, 0.09, 0.085, 0.08, 0.075,
                 0.07, 0.066, 0.062, 0.058, 0.055, 0.052, 0.05, 0.048, 0.046, 0.044,
                 0.042, 0.04, 0.039, 0.038, 0.037, 0.036, 0.035, 0.034, 0.033, 1.55]
dphidphi_2_tau = [1.51, 1.96, 0.99, 0.64, 0.45, 0.35, 0.28, 0.23, 0.2, 0.18,
                  0.16, 0.15, 0.14, 0.13, 0.12, 0.12, 0.11, 0.11, 0.1, 0.1,
                  0.095, 0.09, 0.085, 0.08, 0.075, 0.07, 0.066, 0.062, 0.058, 0.055,
                  0.052, 0.05, 0.047, 0.045, 0.043, 0.041, 0.039, 0.038, 0.036, 0.035,
                  0.034, 0.033, 0.032, 0.031, 0.03, 0.03, 0.029, 0.029, 0.028, 1.52]
dphidphi_2_peak = {0: [0.33, 0.32, 0.17, 0.36, 0.05, 0.05, 1.51],
                   1: [0.92, 0.93, 0.75, 0.9, 0.48, 0.35, 1.96],
                   2: [0.88, 0.9, 0.8, 0.87, 0.58, 0.6, 0.99],
                   3: [0.72, 0.72, 0.79, 0.7, 0.6, 0.65, 0.64],
                   49: [1.55, 1.75, 1.38, 1.8, 1.65, 1.55, 1.52]}

dphidphi_3_qq = [0.02, 0.18, 0.33, 0.38, 0.38, 0.37, 0.35, 0.34, 0.33, 0.31,
                 0.3, 0.29, 0.27, 0.26, 0.245, 0.23, 0.22, 0.21, 0.2, 0.19,
                 0.18, 0.17, 0.16, 0.15, 0.14, 0.13, 0.125, 0.12, 0.11, 0.105,
                 0.1, 0.095, 0.09, 0.085, 0.082, 0.08, 0.077, 0.074, 0.071, 0.068,
                 0.065, 0.063, 0.061, 0.059, 0.057, 0.055, 0.053, 0.052, 0.05, 3.3]
dphidphi_3_tau = [0.12, 0.65, 0.62, 0.5, 0.45, 0.38, 0.34, 0.31, 0.29, 0.27,
                  0.26, 0.25, 0.24, 0.23, 0.22, 0.21, 0.2, 0.19, 0.18, 0.17,
                  0.16, 0.15, 0.14, 0.135, 0.13, 0.12, 0.115, 0.11, 0.105, 0.1,
                  0.095, 0.09, 0.085, 0.08, 0.077, 0.074, 0.071, 0.068, 0.065, 0.062,
                  0.06, 0.058, 0.056, 0.054, 0.052, 0.05, 0.049, 0.048, 0.047, 3.32]
dphidphi_3_peak = {1: [0.18, 0.2, 0.1, 0.15, 0.08, 0.05, 0.65],
                   2: [0.33, 0.35, 0.28, 0.33, 0.2, 0.15, 0.62],
                   3: [0.38, 0.38, 0.36, 0.38, 0.3, 0.28, 0.5],
                   49: [3.3, 3.32, 3.0, 3.38, 3.05, 2.8, 3.32]}

shapes = [
    [(cctgtheta_1_qq, cctgtheta_1_tau, cctgtheta_1_peak),
     (cctgtheta_2_qq, cctgtheta_2_tau, cctgtheta_2_peak),
     (cctgtheta_3_qq, cctgtheta_3_tau, cctgtheta_3_peak)],
    [(cdz_1_qq, cdz_1_tau, cdz_1_peak),
     (cdz_2_qq, cdz_2_tau, cdz_2_peak),
     (cdz_3_qq, cdz_3_tau, cdz_3_peak)],
    [(detadeta_1_qq, detadeta_1_tau, detadeta_1_peak),
     (detadeta_2_qq, detadeta_2_tau, detadeta_2_peak),
     (detadeta_3_qq, detadeta_3_tau, detadeta_3_peak)],
    [(dlambdadz_1_qq, dlambdadz_1_tau, dlambdadz_1_peak),
     (dlambdadz_2_qq, dlambdadz_2_tau, dlambdadz_2_peak),
     (dlambdadz_3_qq, dlambdadz_3_tau, dlambdadz_3_peak)],
    [(phic_1_qq, phic_1_tau, phic_1_peak),
     (phic_2_qq, phic_2_tau, phic_2_peak),
     (phic_3_qq, phic_3_tau, phic_3_peak)],
    [(phictgtheta_1_qq, phictgtheta_1_tau, phictgtheta_1_peak),
     (phictgtheta_2_qq, phictgtheta_2_tau, phictgtheta_2_peak),
     (phictgtheta_3_qq, phictgtheta_3_tau, phictgtheta_3_peak)],
    [(phidz_1_qq, phidz_1_tau, phidz_1_peak),
     (phidz_2_qq, phidz_2_tau, phidz_2_peak),
     (phidz_3_qq, phidz_3_tau, phidz_3_peak)],
    [(dphidphi_1_qq, dphidphi_1_tau, dphidphi_1_peak),
     (dphidphi_2_qq, dphidphi_2_tau, dphidphi_2_peak),
     (dphidphi_3_qq, dphidphi_3_tau, dphidphi_3_peak)],
]

fig, axes = plt.subplots(8, 3, figsize=(1046 / 75, 1677 / 75), dpi=75)

for r, var in enumerate(variables):
    lo, hi = x_ranges[r]
    edges = np.linspace(lo, hi, 51)
    centers = 0.5 * (edges[:-1] + edges[1:])
    for c in range(3):
        qq, tau, peak = shapes[r][c]
        assert len(qq) == 50 and len(tau) == 50, (var, c)
        ax = axes[r, c]
        for i, name in enumerate(samples):
            counts = np.array(tau if name == "Htautau" else qq, dtype=float)
            for b, vals in peak.items():
                counts[b] = vals[i]
            ax.hist(centers, bins=edges, weights=counts * y_units[r][c],
                    histtype="step", linewidth=2, label=name)
        ax.set_title(var)
        ax.grid(True)
        if r == 0 and c == 0:
            ax.legend(loc="upper right")

fig.subplots_adjust(left=0.031, right=0.994, top=0.986, bottom=0.018,
                    wspace=0.106, hspace=0.37)
fig.savefig("out.png", dpi=75)
